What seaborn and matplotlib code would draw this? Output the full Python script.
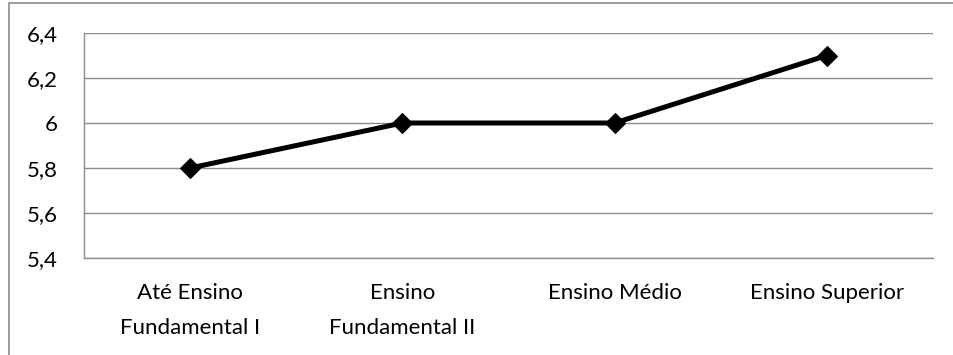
import matplotlib
matplotlib.use("Agg")
import matplotlib.pyplot as plt
import seaborn as sns
import pandas as pd
from matplotlib.patches import Rectangle

categorias = ["Até Ensino\nFundamental I", "Ensino\nFundamental II", "Ensino Médio", "Ensino Superior"]
valores = [5.8, 6.0, 6.0, 6.3]
yticks = [5.4, 5.6, 5.8, 6.0, 6.2, 6.4]
ylabels = ["5,4", "5,6", "5,8", "6", "6,2", "6,4"]

sns.set_style("white")
plt.rcParams["font.family"] = ["Lato", "DejaVu Sans"]

df = pd.DataFrame({"cat": range(len(categorias)), "valor": valores})

fig = plt.figure(figsize=(9.54, 3.55), dpi=100)
ax = fig.add_axes([84 / 954, 1 - 258 / 355, (933 - 84) / 954, (258 - 33) / 355])

sns.lineplot(data=df, x="cat", y="valor", ax=ax, color="black", linewidth=3.6,
             marker="D", markersize=10.5, markeredgecolor="black", markerfacecolor="black")

ax.set_xlim(-0.5, len(categorias) - 0.5)
ax.set_ylim(5.4, 6.4)
ax.set_yticks(yticks)
ax.set_yticklabels(ylabels, fontsize=16, color="black")
ax.set_xticks(range(len(categorias)))
ax.set_xticklabels(categorias, fontsize=16, color="black", linespacing=1.95)
ax.tick_params(axis="both", length=0)
ax.tick_params(axis="x", pad=18)
ax.tick_params(axis="y", pad=19)
ax.grid(axis="y", color="#8c8c8c", linewidth=1)
ax.set_axisbelow(True)
ax.set_xlabel("")
ax.set_ylabel("")
for s in ["top", "right"]:
    ax.spines[s].set_visible(False)
for s in ["left", "bottom"]:
    ax.spines[s].set_color("#8c8c8c")
    ax.spines[s].set_linewidth(1)

fig.patches.append(Rectangle((9 / 954, -0.1), 1.0, 1 - 3 / 355 + 0.1, transform=fig.transFigure,
                             fill=False, edgecolor="#8c8c8c", linewidth=1.2))

fig.savefig("out.png", dpi=100)
